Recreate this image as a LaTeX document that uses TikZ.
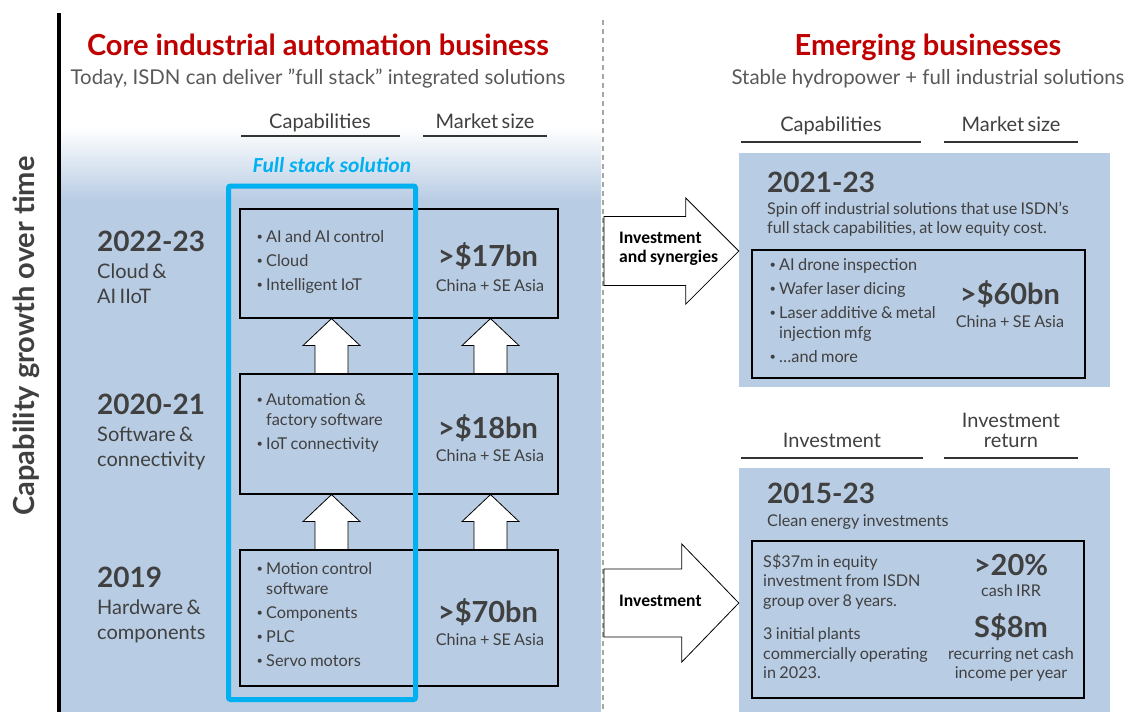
\documentclass[tikz,border=0pt]{standalone}
\usepackage{fontspec}
\setmainfont{Lato}
\newfontfamily\calfont{Carlito}
\usetikzlibrary{calc}
\definecolor{boxblue}{HTML}{B8CCE4}
\definecolor{txt}{HTML}{404040}
\definecolor{subgray}{HTML}{595959}
\definecolor{titlered}{HTML}{C00000}
\definecolor{stackcyan}{HTML}{00B0F0}
\newcommand{\bfirst}{\hangindent=10pt\hangafter=1\noindent\makebox[10pt][l]{\hspace{0.5pt}\raisebox{1.3pt}{\fontsize{11}{11}\selectfont\textbullet}}}
\newcommand{\bpt}{\par\bfirst}
% block arrow pointing up, from the top of one box to the bottom of the next
\newcommand{\upblock}[2]{%
  \draw[blockarr] ($(#1)+(-13.5,0)$) -- ($(#2)+(-13.5,27)$) -- ($(#2)+(-25.5,27)$)
    -- ($(#2)+(3,0)$) -- ($(#2)+(31.5,27)$) -- ($(#2)+(19.5,27)$) -- ($(#1)+(19.5,0)$) -- cycle;}
% block arrow pointing right: start, tip, shaft half, head half, head length
\newcommand{\rightblock}[5]{%
  \draw[blockarr] ($(#1)+(0,-#3)$) -- ($(#2)+(-#5,-#3)$) -- ($(#2)+(-#5,-#4)$)
    -- (#2) -- ($(#2)+(-#5,#4)$) -- ($(#2)+(-#5,#3)$) -- ($(#1)+(0,#3)$) -- cycle;}
\begin{document}
\begin{tikzpicture}[x=1pt, y=-1pt,
    every node/.style={inner sep=0pt, text=txt},
    title/.style={font=\fontsize{29}{34}\selectfont\bfseries, text=titlered, anchor=base},
    subtitle/.style={font=\fontsize{20.4}{24}\selectfont, text=subgray, anchor=base},
    hdr/.style={anchor=base, text width=180, align=center, execute at begin node={\fontsize{20}{20}\selectfont}},
    rule/.style={draw=black!80, line width=1.2pt},
    rowbox/.style={draw=black, line width=1.1pt, fill=boxblue},
    panel/.style={fill=boxblue},
    yearlbl/.style={font=\fontsize{28}{32}\selectfont\bfseries, anchor=base west},
    desclbl/.style={anchor=base west, text width=150, align=left, execute at begin node={\fontsize{20}{25}\selectfont}},
    bullets/.style={anchor=base west, text width=#1, align=left, execute at begin node={\fontsize{16.3}{20}\selectfont\setlength{\parskip}{4pt}}},
    bignum/.style={font=\fontsize{29}{32}\selectfont\bfseries, anchor=base},
    note/.style={anchor=base, text width=#1, align=center, execute at begin node={\fontsize{16.2}{19}\selectfont}},
    noteL/.style={anchor=base west, text width=#1, align=left, execute at begin node={\fontsize{16.2}{19.5}\selectfont}},
    blockarr/.style={draw=black, line width=0.8pt, fill=white, line join=miter},
    arrlbl/.style={anchor=base west, text=black, text width=120, align=left, execute at begin node={\calfont\bfseries\fontsize{17.6}{19}\selectfont}}]

\fill[white] (0,0) rectangle (1134,712);
\useasboundingbox (0,0) rectangle (1134,712);

% left panel
\shade[top color=white, bottom color=boxblue] (61,128) rectangle (601,200);
\fill[boxblue] (61,199.5) rectangle (601,712);
\draw[line width=4pt] (59,13) -- (59,712);
\draw[gray!70, line width=1.5pt, dash pattern=on 5pt off 4pt] (603,20) -- (603,712);

\node[rotate=90, font=\fontsize{29}{34}\selectfont\bfseries] (axis) at (26,336) {Capability growth over time};

\node[title] (ttlL) at (318,55) {Core industrial automation business};
\node[subtitle] (subL) at (318,84) {Today, ISDN can deliver ”full stack” integrated solutions};
\node[hdr] (hcapL) at (320,128) {Capabilities};
\draw[rule] (241,136) -- (400,136);
\node[hdr] (hmktL) at (485,128) {Market size};
\draw[rule] (423,136) -- (547,136);

\node[rowbox, minimum width=177, minimum height=109] (cap1) at (328.5,263.5) {};
\node[rowbox, minimum width=141, minimum height=109] (mkt1) at (487.5,263.5) {};
\node[rowbox, minimum width=177, minimum height=120] (cap2) at (328.5,434) {};
\node[rowbox, minimum width=141, minimum height=120] (mkt2) at (487.5,434) {};
\node[rowbox, minimum width=177, minimum height=136] (cap3) at (328.5,618) {};
\node[rowbox, minimum width=141, minimum height=136] (mkt3) at (487.5,618) {};

\upblock{cap2.north}{cap1.south}
\upblock{mkt2.north}{mkt1.south}
\upblock{cap3.north}{cap2.south}
\upblock{mkt3.north}{mkt2.south}

\node[yearlbl] (yr1) at (97,251) {2022-23};
\node[desclbl] (ds1) at (97,278) {Cloud \&\\AI IIoT};
\node[bullets=160] (it1) at (256,242) {\bfirst AI and AI control\bpt Cloud\bpt Intelligent IoT};
\node[bignum] (sz1) at (488,266) {>\$17bn};
\node[note=140] (cn1) at (490,291) {China + SE Asia};

\node[yearlbl] (yr2) at (97,414) {2020-21};
\node[desclbl] (ds2) at (97,441) {Software \&\\connectivity};
\node[bullets=160] (it2) at (256,405) {\bfirst Automation \&\newline factory software\bpt IoT connectivity};
\node[bignum] (sz2) at (488,438) {>\$18bn};
\node[note=140] (cn2) at (490,461) {China + SE Asia};

\node[yearlbl] (yr3) at (97,587) {2019};
\node[desclbl] (ds3) at (97,614) {Hardware \&\\components};
\node[bullets=160] (it3) at (256,574) {\bfirst Motion control\newline software\bpt Components\bpt PLC\bpt Servo motors};
\node[bignum] (sz3) at (488,622) {>\$70bn};
\node[note=140] (cn3) at (490,645) {China + SE Asia};

% right side
\node[title] (ttlR) at (928,55) {Emerging businesses};
\node[subtitle] (subR) at (928,84) {Stable hydropower + full industrial solutions};
\node[hdr] (hcapR) at (831,131) {Capabilities};
\draw[rule] (741,142) -- (921,142);
\node[hdr] (hmktR) at (1011,131) {Market size};
\draw[rule] (944,142) -- (1078,142);

\node[panel, minimum width=371, minimum height=234] (spin) at (924.5,270) {};
\node[rowbox, minimum width=333, minimum height=128] (spinin) at (918.5,314) {};
\node[yearlbl] (yr4) at (767,192) {2021-23};
\node[noteL=340] (spintx) at (767,214) {Spin off industrial solutions that use ISDN’s\\full stack capabilities, at low equity cost.};
\node[bullets=180] (it4) at (769,270) {\bfirst AI drone inspection\bpt Wafer laser dicing\bpt Laser additive \& metal\newline injection mfg\bpt …and more};
\node[bignum] (sz4) at (1010,304) {>\$60bn};
\node[note=140] (cn4) at (1010,327) {China + SE Asia};

\node[hdr] (hinv) at (832,447) {Investment};
\draw[rule] (741,458) -- (923,458);
\node[hdr] (hret) at (1011,427) {Investment\\return};
\draw[rule] (944,458) -- (1078,458);

\node[panel, minimum width=371, minimum height=244] (clean) at (924.5,590) {};
\node[rowbox, minimum width=332, minimum height=157] (cleanin) at (918,619.5) {};
\node[yearlbl] (yr5) at (767,503) {2015-23};
\node[noteL=300] (cetx) at (767,526) {Clean energy investments};
\node[noteL=220] (eqtx) at (763,567) {S\$37m in equity\\investment from ISDN\\group over 8 years.\\[14pt]3 initial plants\\commercially operating\\in 2023.};
\node[bignum] (irr) at (1011,575) {>20\%};
\node[note=150] (irrtx) at (1011,596) {cash IRR};
\node[bignum] (inc) at (1011,637) {S\$8m};
\node[note=150] (inctx) at (1011,659) {recurring net cash\\income per year};

\coordinate (a1) at (604,251);
\coordinate (t1) at (spin.west |- a1);
\rightblock{a1}{t1}{34.5}{53}{53}
\node[arrlbl] (al1) at (619,243) {Investment\\and synergies};
\coordinate (a2) at (604,603);
\coordinate (t2) at (clean.west |- a2);
\rightblock{a2}{t2}{34}{59}{57}
\node[arrlbl] (al2) at (619,606) {Investment};

% full stack frame
\node[font=\calfont\bfseries\itshape\fontsize{21.4}{24}\selectfont, text=stackcyan, anchor=base] (fss) at (332,172) {Full stack solution};
\draw[stackcyan, line width=5pt, rounded corners=2pt] (228.5,186) rectangle (415.5,699.5);
\end{tikzpicture}
\end{document}
